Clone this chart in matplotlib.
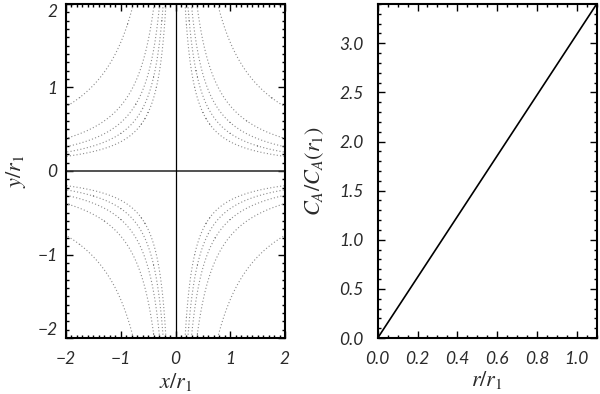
import numpy as np
import matplotlib
matplotlib.use("Agg")
import matplotlib.pyplot as plt
from matplotlib.ticker import MultipleLocator, FormatStrFormatter

# left panel: field lines x*y = const (dotted), levels
field_levels = [0.35, 0.45, 0.58, 0.78, 1.54]
x_ticks = [-2, -1, 0, 1, 2]
y_ticks = [-2, -1, 0, 1, 2]

# right panel: C_A / C_A(r1) against r / r1
r_vals = [0.0, 1.1]
ca_vals = [0.0, 3.4]
r_ticks = [0.0, 0.2, 0.4, 0.6, 0.8, 1.0]
ca_ticks = [0.0, 0.5, 1.0, 1.5, 2.0, 2.5, 3.0]

plt.rcParams['mathtext.fontset'] = 'stix'
plt.rcParams['font.family'] = ['Lato', 'DejaVu Sans']

TXT = '#2a2a2a'

fig = plt.figure(figsize=(6.0, 3.94), dpi=100)
ax1 = fig.add_axes([0.110, 0.142, 0.365, 0.848])
ax2 = fig.add_axes([0.6295, 0.142, 0.365, 0.848])


def idl_style(ax, minor):
    for s in ax.spines.values():
        s.set_linewidth(1.5)
    ax.xaxis.set_minor_locator(MultipleLocator(minor[0]))
    ax.yaxis.set_minor_locator(MultipleLocator(minor[1]))
    ax.tick_params(which='both', direction='in', top=True, right=True,
                   width=1.0, colors='black', labelcolor=TXT, labelsize=12.5)
    ax.tick_params(which='major', length=5)
    ax.tick_params(which='minor', length=2.5)
    for lab in ax.get_xticklabels() + ax.get_yticklabels():
        lab.set_fontstyle('italic')


def place_labels(ax, xl_y, yl_x):
    ax.xaxis.label.set_va('center')
    ax.yaxis.label.set_va('center')
    ax.xaxis.set_label_coords(0.5, xl_y)
    ax.yaxis.set_label_coords(yl_x, 0.5)


# field lines
gx = np.linspace(-2, 2, 801)
X, Y = np.meshgrid(gx, gx)
levels = sorted([-c for c in field_levels] + field_levels)
ax1.contour(X, Y, X * Y, levels=levels, colors='#8c8c8c',
            linewidths=0.8, linestyles=[(0, (1, 2))])
ax1.axhline(0, color='#333333', lw=1.2)
ax1.axvline(0, color='black', lw=0.9)
ax1.set_xlim(-2, 2)
ax1.set_ylim(-2, 2)
ax1.set_xticks(x_ticks)
ax1.set_yticks(y_ticks)
ax1.set_xlabel(r'$x/r_1$', fontsize=16, color=TXT)
ax1.set_ylabel(r'$y/r_1$', fontsize=16, color=TXT)
place_labels(ax1, -0.132, -0.228)
idl_style(ax1, (0.1, 0.1))
ax1.tick_params(axis='x', which='major', pad=9)
ax1.tick_params(axis='y', which='major', pad=6)
# keep the end labels inside the frame, as in the original
ylabs = ax1.get_yticklabels()
ylabs[0].set_va('bottom')
ylabs[-1].set_va('top')

# Alfven speed profile
ax2.plot(r_vals, ca_vals, color='black', lw=1.2)
ax2.set_xlim(0, 1.1)
ax2.set_ylim(0, 3.4)
ax2.set_xticks(r_ticks)
ax2.set_yticks(ca_ticks)
ax2.xaxis.set_major_formatter(FormatStrFormatter('%.1f'))
ax2.yaxis.set_major_formatter(FormatStrFormatter('%.1f'))
ax2.set_xlabel(r'$r/r_1$', fontsize=16, color=TXT)
ax2.set_ylabel(r'$C_A/C_A(r_1)$', fontsize=16, color=TXT)
place_labels(ax2, -0.126, -0.286)
idl_style(ax2, (0.05, 0.1))
ax2.tick_params(axis='x', which='major', pad=9)
ax2.tick_params(axis='y', which='major', pad=10)

fig.savefig('out.png', dpi=100)
